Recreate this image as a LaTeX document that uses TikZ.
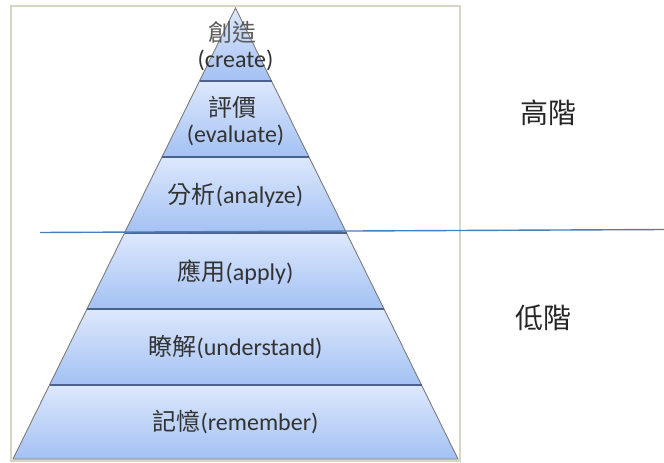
\documentclass[tikz,border=0pt]{standalone}
\usepackage{fontspec}
\setmainfont{Carlito}
\newfontfamily\cjk{Noto Sans CJK TC}
\definecolor{frameC}{HTML}{D9D5C3}
\definecolor{bandTop}{HTML}{DDE8FC}
\definecolor{bandBot}{HTML}{A3C1F4}
\definecolor{sepC}{HTML}{4D6288}
\definecolor{sideC}{HTML}{7F7F7F}
\definecolor{txtC}{HTML}{333333}
\definecolor{lineC}{HTML}{4A7EBB}
\tikzset{
  band/.style={top color=bandTop, bottom color=bandBot, draw=none},
  sepline/.style={draw=sepC, line width=1.4pt},
  sideline/.style={draw=sideC, line width=0.9pt},
  lbl/.style={inner sep=0pt, text=txtC, font=\fontsize{24}{26}\selectfont, anchor=center},
  side/.style={inner sep=0pt, text=black!85, font=\cjk\fontsize{28}{30}\selectfont, anchor=center},
}
\begin{document}
\begin{tikzpicture}[x=1pt,y=-1pt]
\useasboundingbox (0,0) rectangle (664,463);
\draw[frameC, line width=2pt] (11,6) rectangle (460,461);
% bands (half width = 0.4934*(y-8))
\fill[band] (235.5,8) -- (271.5,81) -- (199.5,81) -- cycle;
\fill[band] (199.5,81) -- (271.5,81) -- (309,157) -- (162,157) -- cycle;
\fill[band] (162,157) -- (309,157) -- (346.5,233) -- (124.5,233) -- cycle;
\fill[band] (124.5,233) -- (346.5,233) -- (384,309) -- (87,309) -- cycle;
\fill[band] (87,309) -- (384,309) -- (421.5,385) -- (49.5,385) -- cycle;
\fill[band] (49.5,385) -- (421.5,385) -- (458,459) -- (13,459) -- cycle;
% outline
\coordinate (apex) at (235.5,8);
\coordinate (bl) at (13,459);
\coordinate (br) at (458,459);
\draw[sideline] (bl) -- (apex) -- (br) -- cycle;
% separators
\draw[sepline] (199.5,81) -- (271.5,81);
\draw[sepline] (162,157) -- (309,157);
\draw[sepline] (124.5,233) -- (346.5,233);
\draw[sepline] (87,309) -- (384,309);
\draw[sepline] (49.5,385) -- (421.5,385);
% labels
\node[lbl, text=txtC!80] (c1) at (232,32) {\cjk 創造};
\node[lbl] (c2) at (235.5,60) {(create)};
\node[lbl] (e1) at (232,107) {\cjk 評價};
\node[lbl] (e2) at (235.5,135) {(evaluate)};
\node[lbl] (an) at (235.5,195) {{\cjk 分析}(analyze)};
\node[lbl] (ap) at (235.5,272) {{\cjk 應用}(apply)};
\node[lbl] (un) at (235.5,347) {{\cjk 瞭解}(understand)};
\node[lbl] (re) at (235.5,422) {{\cjk 記憶}(remember)};
\node[side] (hi) at (548,113) {高階};
\node[side] (lo) at (543,318) {低階};
% divider line
\coordinate (L1) at (40,232.5);
\coordinate (L2) at (664,229.5);
\draw[lineC, line width=1.4pt] (L1) -- (L2);
\end{tikzpicture}
\end{document}
